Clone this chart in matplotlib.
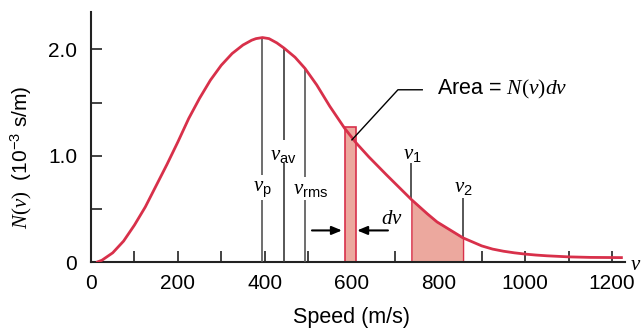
import numpy as np
import matplotlib
matplotlib.use("Agg")
import matplotlib.pyplot as plt
from matplotlib.ticker import MultipleLocator, FixedLocator, FixedFormatter

plt.rcParams['font.family'] = ['Liberation Sans', 'DejaVu Sans']
plt.rcParams['mathtext.fontset'] = 'custom'
plt.rcParams['mathtext.it'] = 'Liberation Serif:italic'
plt.rcParams['mathtext.rm'] = 'Liberation Serif'
plt.rcParams['mathtext.sf'] = 'Liberation Sans'

# curve: speed (m/s) and N(v) (10^-3 s/m)
speed = [12, 25, 50, 75, 100, 125, 150, 175, 200, 225, 250, 275, 300, 325, 350,
         370, 380, 395, 410, 428, 445, 470, 493, 520, 550, 584, 611, 640, 681,
         738, 775, 797, 825, 857, 880, 900, 925, 950, 975, 1000, 1025, 1050,
         1100, 1150, 1225]
N = [0.0, 0.02, 0.09, 0.20, 0.35, 0.52, 0.72, 0.92, 1.13, 1.35, 1.54, 1.71,
     1.85, 1.96, 2.04, 2.085, 2.10, 2.11, 2.10, 2.06, 2.01, 1.925, 1.82, 1.665,
     1.465, 1.26, 1.12, 0.99, 0.82, 0.59, 0.455, 0.38, 0.31, 0.23, 0.19, 0.155,
     0.125, 0.105, 0.09, 0.078, 0.069, 0.062, 0.052, 0.047, 0.045]

v_p, N_p = 395, 2.11
v_av, N_av = 445, 2.01
v_rms, N_rms = 493, 1.82
v1, N1 = 738, 0.59
v2, N2 = 857, 0.23
dv_left, dv_right, dv_height = 584, 611, 1.27

red = '#d8304a'
pink = '#eca89e'
dark = '#3a3a3a'

fig = plt.figure(figsize=(6.41, 3.33), dpi=100)
ax = fig.add_axes([0.142, 0.212, 0.833, 0.752])

# shaded v1..v2 area
sp = np.array(speed)
nn = np.array(N)
m = (sp >= v1) & (sp <= v2)
ax.fill_between(sp[m], 0, nn[m], facecolor=pink, edgecolor=red, lw=1.0, zorder=2)

# dv strip
ax.bar(dv_left, dv_height, width=dv_right - dv_left, align='edge',
       facecolor=pink, edgecolor=red, lw=1.2, zorder=2)

# curve
ax.plot(speed, N, color=red, lw=2.0, zorder=4, solid_joinstyle='round',
        solid_capstyle='butt')

# characteristic speeds (lines broken for their labels)
ax.vlines([v_p, v_p], [0, 0.82], [0.585, N_p], color='#555555', lw=1.2, zorder=3)
ax.vlines([v_av, v_av], [0, 1.15], [0.93, N_av], color=dark, lw=1.2, zorder=3)
ax.vlines([v_rms, v_rms], [0, 0.80], [0.585, N_rms], color='#555555', lw=1.2, zorder=3)
ax.text(394, 0.68, r'$v_\mathsf{p}$', ha='center', va='center', fontsize=15)
ax.text(443, 1.0, r'$v_\mathsf{av}$', ha='center', va='center', fontsize=15)
ax.text(505, 0.68, r'$v_\mathsf{rms}$', ha='center', va='center', fontsize=15)

ax.vlines(v1, N1, 0.93, color=dark, lw=1.2, zorder=3)
ax.vlines(v2, N2, 0.60, color=dark, lw=1.2, zorder=3)
ax.text(740, 1.01, r'$v_\mathsf{1}$', ha='center', va='center', fontsize=15)
ax.text(857, 0.70, r'$v_\mathsf{2}$', ha='center', va='center', fontsize=15)

# dv arrows
arr = dict(arrowstyle='-|>,head_length=0.6,head_width=0.25', color='black', lw=1.5,
           shrinkA=0, shrinkB=0)
ax.annotate('', xy=(578, 0.30), xytext=(509, 0.30), arrowprops=arr)
ax.annotate('', xy=(613, 0.30), xytext=(684, 0.30), arrowprops=arr)
ax.text(693, 0.415, r'$dv$', ha='center', va='center', fontsize=15)

# Area label with pointer
ax.plot([601, 707, 763], [1.15, 1.62, 1.62], color='black', lw=1.0, zorder=5)
ax.text(797, 1.62, r'Area = $N(v)dv$', ha='left', va='center', fontsize=15.5)

ax.set_xlim(0, 1230)
ax.set_ylim(0, 2.35)
for s in ['top', 'right']:
    ax.spines[s].set_visible(False)
for s in ['left', 'bottom']:
    ax.spines[s].set_linewidth(1.5)
    ax.spines[s].set_color('#222222')

ax.xaxis.set_major_locator(MultipleLocator(200))
ax.xaxis.set_minor_locator(FixedLocator([100, 300, 500, 700, 900, 1100]))
ax.yaxis.set_major_locator(FixedLocator([0, 1.0, 2.0]))
ax.yaxis.set_major_formatter(FixedFormatter(['0', '1.0', '2.0']))
ax.yaxis.set_minor_locator(FixedLocator([0.5, 1.5]))
ax.tick_params(which='both', direction='in', length=8, width=1.2, color='#222222')
ax.tick_params(axis='x', which='major', pad=8, labelsize=15)
ax.tick_params(axis='y', which='major', pad=10, labelsize=15)

fig.text(351 / 641, 1 - 317 / 333, 'Speed (m/s)', ha='center', va='center', fontsize=15.5)
fig.text(21.5 / 641, 1 - 157 / 333, r'$N(v)$  (10$^{\mathsf{-3}}$ s/m)', rotation=90,
         ha='center', va='center', fontsize=15)
fig.text(630 / 641, 1 - 265 / 333, r'$v$', ha='left', va='center', fontsize=15)

fig.savefig('out.png', dpi=100)
